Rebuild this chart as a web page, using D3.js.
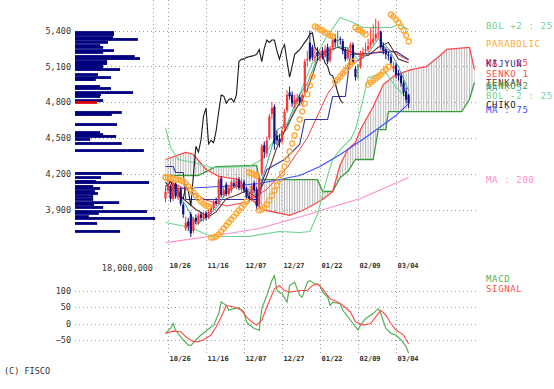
<!DOCTYPE html>
<html><head><meta charset="utf-8">
<script src="https://cdn.jsdelivr.net/npm/d3@7"></script>
<style>
body{margin:0;background:#fff}
svg{display:block}
text{font-family:"DejaVu Sans Mono","Liberation Mono",monospace}
</style>
</head><body>
<svg id="c" width="554" height="389"></svg>
<script>
// ---------- DATA ----------
const dateLabels = ["10/26","11/16","12/07","12/27","01/22","02/09","03/04"];
const dateIdx = [1,16,31,46,61,76,91];
const priceTicks = [3900,4200,4500,4800,5100,5400];
const macdTicks = [-50,0,50,100];

const open = [3990,4060,4090,3990,4110,4000,4070,3940,3740,3800,
3860,3720,3830,3790,3860,3820,3870,3830,3880,3910,
3970,3960,4160,4020,4110,4030,4060,4120,4090,4150,
4070,4130,4070,4010,3990,4120,4070,3940,4200,4440,
4370,4500,4700,4760,4520,4490,4470,4580,4730,4880,
4860,4780,4800,4840,4780,4880,5150,5300,5260,5170,
5220,5170,5230,5190,5260,5150,5260,5330,5320,5330,
5310,5240,5170,5250,5280,5080,5100,5100,5190,5230,
5240,5280,5300,5330,5370,5390,5270,5240,5200,5180,
5080,5110,5040,5020,4960,4890,4860];
const close = [4050,4100,3990,4120,4010,4080,3950,3860,3790,3760,
3700,3820,3800,3850,3830,3860,3830,3880,3920,3960,
3950,4150,4020,4060,4030,4080,4130,4100,4140,4080,
4120,4060,4000,3990,4100,4060,3930,4180,4430,4380,
4480,4680,4750,4450,4480,4460,4560,4720,4860,4850,
4790,4820,4830,4800,4860,5140,5160,5160,5175,5180,
5185,5190,5200,5240,5140,5250,5320,5300,5320,5320,
5230,5160,5240,5280,5140,5010,5100,5200,5220,5240,
5270,5300,5330,5370,5380,5260,5230,5200,5190,5130,
5100,5030,5020,4960,4880,4820,4790];
const high = [4100,4150,4110,4140,4130,4110,4090,3960,3840,3830,
3880,3840,3860,3870,3880,3880,3890,3900,3940,3980,
4000,4170,4180,4090,4130,4100,4150,4150,4170,4170,
4160,4150,4090,4040,4120,4140,4090,4200,4450,4470,
4510,4700,4800,4780,4560,4530,4600,4740,4900,4930,
4890,4860,4870,4860,4880,5160,5230,5400,5280,5250,
5260,5240,5260,5280,5290,5270,5340,5370,5400,5350,
5330,5260,5260,5300,5300,5100,5120,5230,5260,5300,
5330,5420,5450,5500,5480,5400,5300,5260,5230,5200,
5140,5130,5070,5040,4980,4920,4870];
const low = [3960,4030,3960,3970,3990,3980,3930,3830,3720,3720,
3670,3700,3780,3770,3800,3800,3810,3820,3860,3890,
3930,3950,4000,4000,4010,4010,4040,4080,4070,4060,
4050,4040,3980,3960,3970,4040,3890,3900,4180,4330,
4340,4480,4660,4400,4440,4420,4450,4560,4710,4820,
4760,4750,4780,4770,4760,4870,5100,5140,5150,5130,
5150,5140,5160,5170,5120,5130,5240,5260,5270,5280,
5200,5140,5150,5200,5120,4980,4990,5080,5160,5200,
5220,5250,5280,5310,5330,5240,5200,5160,5150,5100,
5050,5000,4980,4930,4850,4790,4750];

const ma5Days = [0,4,8,12,16,20,24,28,32,36,40,44,48,52,56,60,64,68,72,76,80,84,88,92,96];
const ma5 = [4070,4054,3938,3774,3834,3908,4042,4096,4080,4016,4280,4568,4616,4830,4958,5172,5191,5266,5254,5154,5206,5330,5252,5094,4894];
const ma25Days = [0,8,16,24,32,40,48,56,64,72,80,88,96];
const ma25 = [4150,4070,3980,3930,3960,4070,4250,4500,4870,5100,5200,5240,5150];
const ma75Days = [0,14,29,37,45,53,61,69,79,85,91,96];
const ma75 = [4068,4084,4101,4118,4151,4185,4260,4361,4503,4595,4688,4788];
const ma200Days = [0,20,37,55,69,77,96];
const ma200 = [3623,3682,3741,3850,3942,3992,4168];
const bolUpDays = [0,2,5,11,18,33,38,43,48,53,58,63,69,74,78,89,92,96];
const bolUp = [4587,4420,4319,4294,4252,4260,4319,4487,4570,4864,5132,5325,5509,5467,5425,5425,5450,5408];
const bolLoDays = [0,10,18,33,45,53,57,60,63,66,69,73,75,78,80,87,91,96];
const bolLo = [3791,3749,3674,3674,3716,3707,3716,3858,4109,4319,4403,4487,4570,4822,5006,5048,4922,4822];
const tenkanDays = [0,4,7,12,17,20,24,28,32,36,40,44,48,52,56,60,64,68,72,76,80,84,88,92,96];
const tenkan = [4100,4080,3990,3900,3840,3880,3990,4020,4060,4000,4180,4420,4600,4760,4900,5150,5230,5260,5230,5200,5190,5260,5300,5160,5130];
const kijunDays = [0,3,4,7,8,37,38,40,47,53,55,64,66,71,72,73,91,96];
const kijun = [4260,4260,4210,4210,3984,3984,4126,4235,4319,4445,4654,4654,4847,4847,5015,5199,5224,5157];
const senko1Days = [0,8,11,16,21,29,33,38,49,55,62,66,69,72,75,77,82,86,91,97,103,108,111,120,122];
const senko1 = [4319,4378,4361,4235,4177,4151,4009,3900,3850,3900,3984,4051,4277,4403,4461,4570,4763,4947,5031,5073,5098,5182,5241,5258,5073];
const senko2Days = [0,13,16,20,36,37,60,62,66,69,72,75,82,84,87,88,117,120,122];
const senko2 = [4185,4185,4218,4260,4269,4151,4151,4051,4051,4168,4218,4319,4319,4570,4570,4721,4721,4822,4964];
const chikoShift = 26;
const sar = [4168,4168,4160,4160,4151,4151,4143,4135,4118,4093,
4068,4042,4017,3992,3967,3950,3933,3925,3665,3665,
3674,3691,3716,3741,3766,3791,3816,3841,3867,3892,
3917,3942,3967,4210,4202,4193,4185,3892,3900,3917,
3942,3975,4017,4059,4101,4151,4202,4260,4319,4386,
4453,4520,4587,4654,4721,4788,4864,4939,5015,5434,
5425,5408,5400,5383,5375,5358,5350,4973,4989,5015,
5040,5065,5090,5115,5140,5425,5408,5400,5383,5366,
4947,4964,4981,4998,5015,5031,5056,5073,5098,5534,
5517,5492,5467,5434,5400,5358,5308];

const vpPrice = [5383,5366,5341,5325,5300,5274,5258,5232,5216,5182,5165,5140,5123,5107,5090,5073,5031,5006,4989,4931,4914,4880,4864,4847,4813,4797,4713,4696,4612,4545,4528,4512,4487,4453,4394,4202,4168,4135,4126,4093,4076,4051,4034,4009,3984,3958,3942,3917,3883,3867,3841,3825,3783,3716];
const vpVol = [9.0,9.0,8.8,14.5,7.6,5.8,6.5,9.0,6.5,13.8,15.0,7.4,7.4,6.5,6.5,10.4,5.3,8.3,4.8,5.8,8.3,13.4,6.0,5.8,6.5,5.1,10.8,8.5,9.7,5.8,6.5,9.5,3.5,10.8,15.9,10.8,6.0,4.8,17.1,4.2,5.8,4.6,5.3,4.2,4.2,10.2,4.4,6.5,16.6,5.5,3.2,18.5,5.1,10.4];
const vpMax = 18000000;

const macdDays = [0,2,3,4,5,7,9,10,12,14,16,19,21,22,24,25,27,29,31,32,33,35,37,38,40,42,43,44,45,46,48,49,51,52,53,54,56,57,59,61,62,64,65,66,69,70,72,74,76,77,79,82,84,85,87,89,91,93,95,96];
const macd = [-30,-15,0,-20,-30,-50,-65,-67,-50,-35,-23,-5,30,65,55,40,45,47,35,5,-3,-15,-20,45,85,130,145,100,95,90,65,115,125,105,85,80,125,130,120,115,95,80,55,65,60,40,20,0,-20,-5,15,30,45,30,-15,-30,-35,-50,-70,-90];
const sigDays = [0,3,6,8,11,13,15,18,20,22,24,27,30,32,34,36,38,40,43,45,47,49,53,56,58,60,62,65,68,70,73,75,78,81,83,85,87,89,91,94,96];
const signal = [-30,-23,-25,-40,-55,-55,-50,-35,-10,20,55,50,40,20,5,-5,10,50,105,115,100,95,100,100,115,120,105,75,65,55,35,5,-5,0,20,40,25,0,-20,-35,-62];

const legendLabels = ["BOL +2 : 25","PARABOLIC","MA : 25","KIJYUN","SENKO 1","TENKAN","SENKO 2","MA : 5","BOL -2 : 25","CHIKO","MA : 75","MA : 200","MACD","SIGNAL"];

// ---------- STYLE ----------
const C = {bol:"#6cd48e", sar:"#ffa833", ma25:"#ff3b3b", kijun:"#35359c", senko1:"#ff4a4a", tenkan:"#6a3434",
  senko2:"#3a9a3a", ma5:"#2fa8a0", chiko:"#1a1a1a", ma75:"#3c4cff", ma200:"#ff8ccc", macd:"#55b055", sig:"#ff5050",
  up:"#ff3535", down:"#10107f", doji:"#2a8a2a", vol:"#00007f", volCur:"#e00000", grid:"#9a9a9a", txt:"#333"};
const legendColors = [C.bol,C.sar,C.ma25,C.kijun,C.senko1,C.tenkan,C.senko2,C.ma5,C.bol,C.chiko,C.ma75,C.ma200,C.macd,C.sig];
const legendY = [29,46.5,65.5,66.5,76.5,85.5,89,91,98.5,107.5,112.5,183,282,292];

// ---------- SCALES ----------
const svg = d3.select("#c");
const x = d3.scaleLinear().domain([0,122]).range([165.5,474.5]);
const y = d3.scaleLinear().domain([3900,5400]).range([209.5,30.5]);
const vx = d3.scaleLinear().domain([0,vpMax]).range([75,153]);
const my = d3.scaleLinear().domain([-50,100]).range([340,290.5]);
const snap = v => Math.round(v)+0.5;

// hatch pattern for cloud
const defs = svg.append("defs");
const pat = defs.append("pattern").attr("id","hatch").attr("patternUnits","userSpaceOnUse")
  .attr("x", x(0)-0.5).attr("y",0).attr("width", x(1)-x(0)).attr("height",4);
pat.append("rect").attr("x",0).attr("y",0).attr("width",1).attr("height",4).attr("fill","#b4b4b4");

// ---------- GRID ----------
const grid = svg.append("g").attr("stroke",C.grid).attr("stroke-dasharray","1,3").attr("stroke-width",1);
grid.selectAll(".hp").data(priceTicks).join("line")
  .attr("x1",75).attr("x2",478).attr("y1",d=>snap(y(d))).attr("y2",d=>snap(y(d)));
grid.selectAll(".hm").data(macdTicks).join("line")
  .attr("x1",75).attr("x2",478).attr("y1",d=>snap(my(d))).attr("y2",d=>snap(my(d)));
grid.selectAll(".vp").data(dateIdx).join("line")
  .attr("x1",d=>snap(x(d))).attr("x2",d=>snap(x(d))).attr("y1",0).attr("y2",258);
grid.selectAll(".vm").data(dateIdx).join("line")
  .attr("x1",d=>snap(x(d))).attr("x2",d=>snap(x(d))).attr("y1",272).attr("y2",355);
grid.append("line").attr("x1",snap(vx(vpMax))).attr("x2",snap(vx(vpMax))).attr("y1",0).attr("y2",258);

// ---------- AXES ----------
const yAx = svg.append("g").attr("transform","translate(75,0)")
  .call(d3.axisLeft(y).tickValues(priceTicks).tickFormat(d3.format(",")).tickSize(0).tickPadding(4));
const mAx = svg.append("g").attr("transform","translate(75,0)")
  .call(d3.axisLeft(my).tickValues(macdTicks).tickFormat(d3.format("d")).tickSize(0).tickPadding(4));
[yAx,mAx].forEach(g=>{g.select(".domain").remove();
  g.selectAll("text").attr("font-size","8.5px").attr("fill",C.txt).attr("font-family","DejaVu Sans Mono");});

const xAx1 = svg.append("g").attr("transform","translate(0,263)")
  .call(d3.axisBottom(x).tickValues(dateIdx).tickFormat((d,k)=>dateLabels[k]).tickSize(0).tickPadding(0));
const xAx2 = svg.append("g").attr("transform","translate(0,356)")
  .call(d3.axisBottom(x).tickValues(dateIdx).tickFormat((d,k)=>dateLabels[k]).tickSize(0).tickPadding(0));
[xAx1,xAx2].forEach(g=>{g.select(".domain").remove();
  g.selectAll("text").attr("text-anchor","start").attr("dx","1").attr("font-size","7px")
   .attr("font-weight","bold").attr("fill",C.txt).attr("font-family","DejaVu Sans Mono");});

svg.append("text").attr("x",vx(vpMax)).attr("y",271).attr("text-anchor","end")
  .attr("font-size","8.5px").attr("fill",C.txt).text(d3.format(",")(vpMax));

// ---------- VOLUME BY PRICE ----------
const last = close[close.length-1];
let curK = d3.minIndex(vpPrice, p=>Math.abs(p-last));
svg.append("g").selectAll("rect").data(vpPrice).join("rect")
  .attr("x",vx(0)).attr("y",d=>y(d)-1.4).attr("height",2.8)
  .attr("width",(d,k)=>vx(vpVol[k]*1e6)-vx(0))
  .attr("fill",(d,k)=>k===curK?C.volCur:C.vol);

// ---------- CLOUD ----------
const ln = d3.line().x(d=>x(d[0])).y(d=>y(d[1]));
const s1 = d3.zip(senko1Days, senko1), s2 = d3.zip(senko2Days, senko2);
svg.append("path").attr("d", ln(s1.concat(s2.slice().reverse()))+"Z").attr("fill","url(#hatch)").attr("stroke","none");

function drawLine(days, vals, color, w){
  svg.append("path").attr("d", ln(d3.zip(days, vals))).attr("fill","none")
    .attr("stroke",color).attr("stroke-width",w).attr("stroke-linejoin","round");
}
drawLine(senko2Days, senko2, C.senko2, 1.3);
drawLine(senko1Days, senko1, C.senko1, 1.3);
drawLine(ma200Days, ma200, C.ma200, 1.2);
drawLine(bolUpDays, bolUp, C.bol, 1.1);
drawLine(bolLoDays, bolLo, C.bol, 1.1);
drawLine(ma75Days, ma75, C.ma75, 1.1);
drawLine(ma25Days, ma25, C.ma25, 1);
drawLine(kijunDays, kijun, C.kijun, 1.1);
drawLine(tenkanDays, tenkan, C.tenkan, 1.1);
drawLine(ma5Days, ma5, C.ma5, 1);
// chiko: closes shifted back
const chikoPts = close.map((c,i)=>[i-chikoShift, c]).filter(d=>d[0]>=0);
svg.append("path").attr("d", ln(chikoPts)).attr("fill","none").attr("stroke",C.chiko).attr("stroke-width",1.1);

// ---------- CANDLES ----------
const cg = svg.append("g");
const col = i => close[i]>open[i]?C.up:(close[i]<open[i]?C.down:C.doji);
cg.selectAll("line").data(close).join("line")
  .attr("x1",(d,i)=>x(i)).attr("x2",(d,i)=>x(i))
  .attr("y1",(d,i)=>y(high[i])).attr("y2",(d,i)=>y(low[i]))
  .attr("stroke",(d,i)=>col(i)).attr("stroke-width",1);
cg.selectAll("rect").data(close).join("rect")
  .attr("x",(d,i)=>x(i)-1.1).attr("width",2.2)
  .attr("y",(d,i)=>y(Math.max(open[i],close[i])))
  .attr("height",(d,i)=>Math.max(1,Math.abs(y(open[i])-y(close[i]))))
  .attr("fill",(d,i)=>col(i));

// ---------- PARABOLIC ----------
svg.append("g").selectAll("circle").data(sar).join("circle")
  .attr("cx",(d,i)=>x(i)).attr("cy",d=>y(d)).attr("r",2.5)
  .attr("fill","none").attr("stroke",C.sar).attr("stroke-width",1.3);

// ---------- MACD ----------
const mln = d3.line().x(d=>x(d[0])).y(d=>my(d[1]));
svg.append("path").attr("d",mln(d3.zip(macdDays,macd))).attr("fill","none").attr("stroke",C.macd).attr("stroke-width",1.2);
svg.append("path").attr("d",mln(d3.zip(sigDays,signal))).attr("fill","none").attr("stroke",C.sig).attr("stroke-width",1.2);

// ---------- LEGEND ----------
svg.append("g").selectAll("text").data(legendLabels).join("text")
  .attr("x",486).attr("y",(d,k)=>legendY[k]).attr("fill",(d,k)=>legendColors[k])
  .attr("font-size","9px").attr("letter-spacing","0.65px").text(d=>d);

svg.append("text").attr("x",4).attr("y",374).attr("font-size","8.5px").attr("fill",C.txt).text("(C) FISCO");
</script>
</body></html>
